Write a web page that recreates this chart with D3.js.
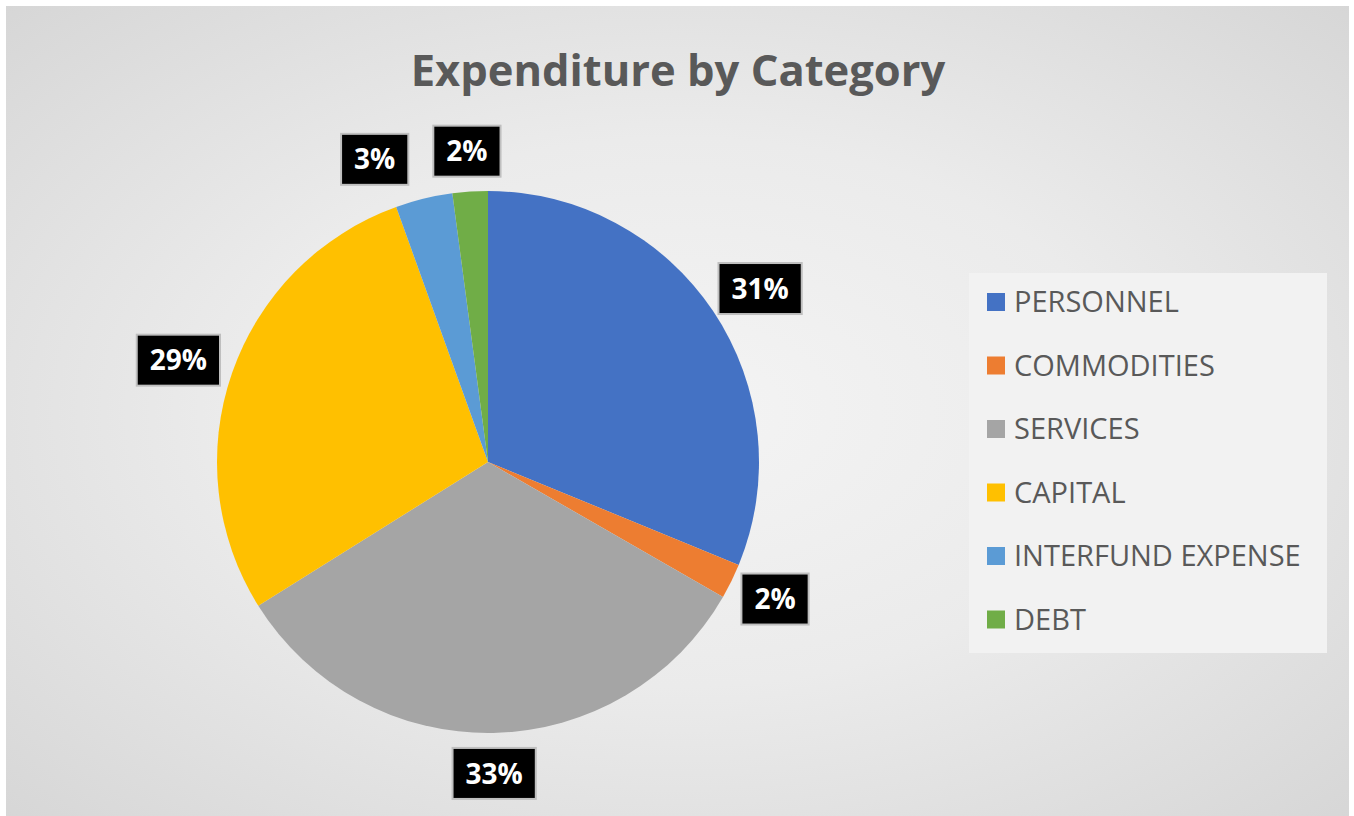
<!DOCTYPE html>
<html>
<head>
<meta charset="utf-8">
<script src="https://cdn.jsdelivr.net/npm/d3@7"></script>
<style>
  html, body { margin: 0; padding: 0; background: #ffffff; }
  svg { display: block; }
</style>
</head>
<body>
<div id="chart"></div>
<script>
// Chart data
const categories = ['PERSONNEL', 'COMMODITIES', 'SERVICES', 'CAPITAL', 'INTERFUND EXPENSE', 'DEBT'];
const values = [31.2, 2.1, 32.8, 28.4, 3.4, 2.1];
const labels = ['31%', '2%', '33%', '29%', '3%', '2%'];
const colors = ['#4472C4', '#ED7D31', '#A5A5A5', '#FFC000', '#5B9BD5', '#70AD47'];

const width = 1354;
const height = 816;
const fontFamily = '"Open Sans", "Noto Sans", sans-serif';

const svg = d3.select('#chart')
    .append('svg')
    .attr('width', width)
    .attr('height', height);

// Background gradient
const defs = svg.append('defs');
const grad = defs.append('radialGradient')
    .attr('id', 'bg')
    .attr('cx', '50%').attr('cy', '50%').attr('r', '75%');
grad.append('stop').attr('offset', '0%').attr('stop-color', '#f4f4f4');
grad.append('stop').attr('offset', '45%').attr('stop-color', '#ebebeb');
grad.append('stop').attr('offset', '100%').attr('stop-color', '#d4d4d4');

svg.append('rect')
    .attr('x', 6)
    .attr('y', 6)
    .attr('width', 1343)
    .attr('height', 812)
    .attr('fill', 'url(#bg)');

// Title
svg.append('text')
    .attr('x', 678)
    .attr('y', 86)
    .attr('text-anchor', 'middle')
    .style('font-family', fontFamily)
    .style('font-weight', 'bold')
    .style('font-size', '43.5px')
    .style('fill', '#595959')
    .text('Expenditure by Category');

// Pie
const cx = 488, cy = 462;
const radius = 271;
const labelGap = 15;
const g = svg.append('g').attr('transform', `translate(${cx},${cy})`);

const pie = d3.pie().value(d => d).sort(null);
const arcs = pie(values);

const arc = d3.arc().innerRadius(0).outerRadius(radius);

g.selectAll('path')
    .data(arcs)
    .enter()
    .append('path')
    .attr('d', arc)
    .attr('fill', (d, i) => colors[i]);

// Data labels (black boxes, outside end)
const labelGroups = g.selectAll('g.label')
    .data(arcs)
    .enter()
    .append('g')
    .attr('class', 'label');

const texts = labelGroups.append('text')
    .attr('text-anchor', 'middle')
    .attr('dy', '0.36em')
    .style('font-family', fontFamily)
    .style('font-weight', 'bold')
    .style('font-size', '28px')
    .style('fill', '#ffffff')
    .text((d, i) => labels[i]);

const boxes = [];
texts.each(function(d, i) {
    const w = this.getComputedTextLength() + 26;
    const h = 51;
    const mid = (d.startAngle + d.endAngle) / 2;
    const dx = Math.sin(mid), dy = -Math.cos(mid);
    boxes.push({
        x: dx * (radius + labelGap) + dx * w / 2,
        y: dy * (radius + labelGap) + dy * h / 2,
        w: w,
        h: h
    });
});

// Push overlapping labels apart (walk backwards from the last slice)
for (let i = boxes.length - 2; i >= 0; i--) {
    const a = boxes[i], b = boxes[i + 1];
    const overlapY = Math.abs(a.y - b.y) < (a.h + b.h) / 2;
    const gap = 25;
    if (overlapY && a.x < b.x && a.x + a.w / 2 > b.x - b.w / 2 - gap) {
        a.x = b.x - b.w / 2 - gap - a.w / 2;
    }
}

labelGroups.attr('transform', (d, i) => `translate(${boxes[i].x},${boxes[i].y})`);

labelGroups.insert('rect', 'text')
    .attr('x', (d, i) => -boxes[i].w / 2)
    .attr('y', (d, i) => -boxes[i].h / 2)
    .attr('width', (d, i) => boxes[i].w)
    .attr('height', (d, i) => boxes[i].h)
    .attr('fill', '#000000')
    .attr('stroke', '#bfbfbf')
    .attr('stroke-width', 2);

// Legend
const legend = svg.append('g')
    .attr('transform', 'translate(969,273)');

legend.append('rect')
    .attr('width', 358)
    .attr('height', 380)
    .attr('fill', '#f2f2f2');

const legendItems = legend.selectAll('g.item')
    .data(categories)
    .enter()
    .append('g')
    .attr('class', 'item')
    .attr('transform', (d, i) => `translate(18, ${29 + i * 63.5})`);

legendItems.append('rect')
    .attr('x', 0)
    .attr('y', -9)
    .attr('width', 18)
    .attr('height', 18)
    .attr('fill', (d, i) => colors[i]);

legendItems.append('text')
    .attr('x', 27)
    .attr('y', 0)
    .attr('dy', '0.36em')
    .style('font-family', fontFamily)
    .style('font-size', '29px')
    .style('fill', '#595959')
    .text(d => d);
</script>
</body>
</html>
